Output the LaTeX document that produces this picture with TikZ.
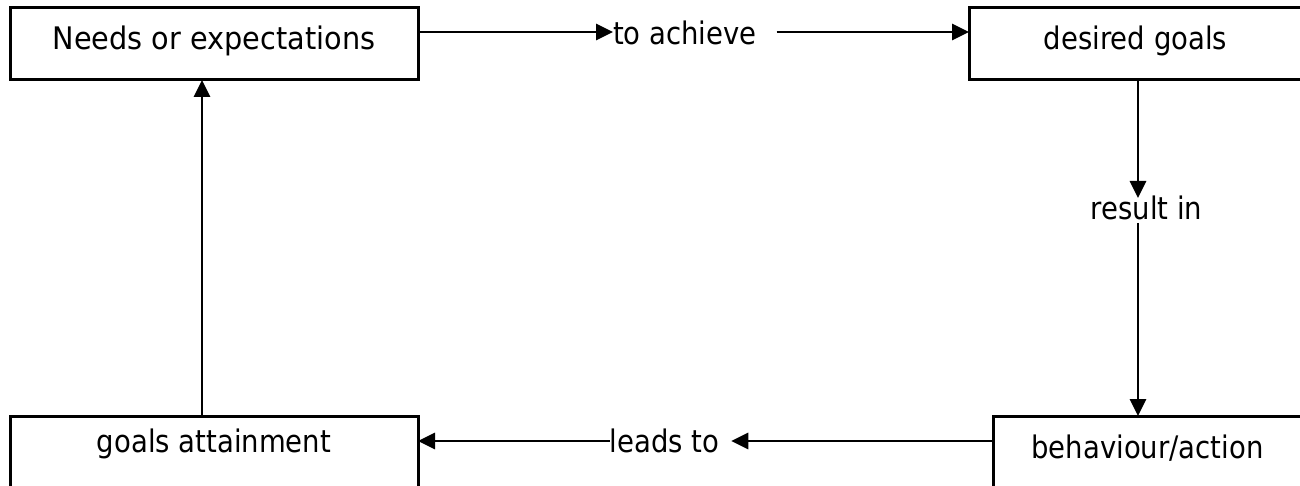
\documentclass[tikz,border=0pt]{standalone}
\usepackage{fontspec}
\setmainfont{DejaVu Sans}
\usetikzlibrary{arrows.meta}
\newcommand\vstretch[2][1]{\scalebox{#1}[1.13]{#2}}
\begin{document}
\begin{tikzpicture}[x=1pt,y=-1pt,
  box/.style={draw, line width=3pt, minimum height=72pt, inner sep=0pt, outer sep=0pt, font=\fontsize{27.5pt}{33pt}\selectfont},
  lbl/.style={inner sep=0pt, outer sep=0pt, font=\fontsize{27.5pt}{33pt}\selectfont},
  arr/.style={line width=2.8pt, -{Triangle[length=17pt,width=16pt]}}]
\useasboundingbox (0,0) rectangle (1300,486);
\clip (0,0) rectangle (1300,486);
\fill[white] (0,0) rectangle (1300,486);
\node[box, minimum width=408pt, text height=20pt, text depth=8pt] (needs) at (214,44) {\vstretch[1.045]{Needs or expectations}\hspace{15pt}};
\node[box, minimum width=333pt, text height=20pt, text depth=8pt] (goals) at (1135.5,44) {\vstretch{desired goals}};
\node[box, minimum width=408pt, text height=10pt, text depth=10pt] (attain) at (214,452) {\vstretch{goals attainment}};
\node[box, minimum width=309pt, text height=21pt, text depth=8pt] (behav) at (1147.5,452) {\vstretch{behaviour/action}};
\node[lbl, anchor=base west] (toach) at (613,45) {\vstretch{to achieve}};
\node[lbl, anchor=base, text height=22pt, text depth=3pt] (resin) at (1146.5,220) {\vstretch{result in}};
\node[lbl, anchor=base] (leads) at (664.5,452) {\vstretch{leads to}};
\coordinate (ytop) at (0,32);
\coordinate (ybot) at (0,441);
\coordinate (xr) at (1138,0);
\coordinate (xl) at (202,0);
\draw[arr] (needs.east |- ytop) -- (toach.west |- ytop);
\draw[arr, shorten <=20pt] (toach.east |- ytop) -- (goals.west |- ytop);
\draw[arr] (goals.south -| xr) -- (resin.north -| xr);
\draw[arr] (resin.south -| xr) -- (behav.north -| xr);
\draw[arr] (attain.north -| xl) -- (needs.south -| xl);
\draw[arr, shorten >=12pt] (behav.west |- ybot) -- (leads.east |- ybot);
\draw[arr] (leads.west |- ybot) -- (attain.east |- ybot);
\end{tikzpicture}
\end{document}
